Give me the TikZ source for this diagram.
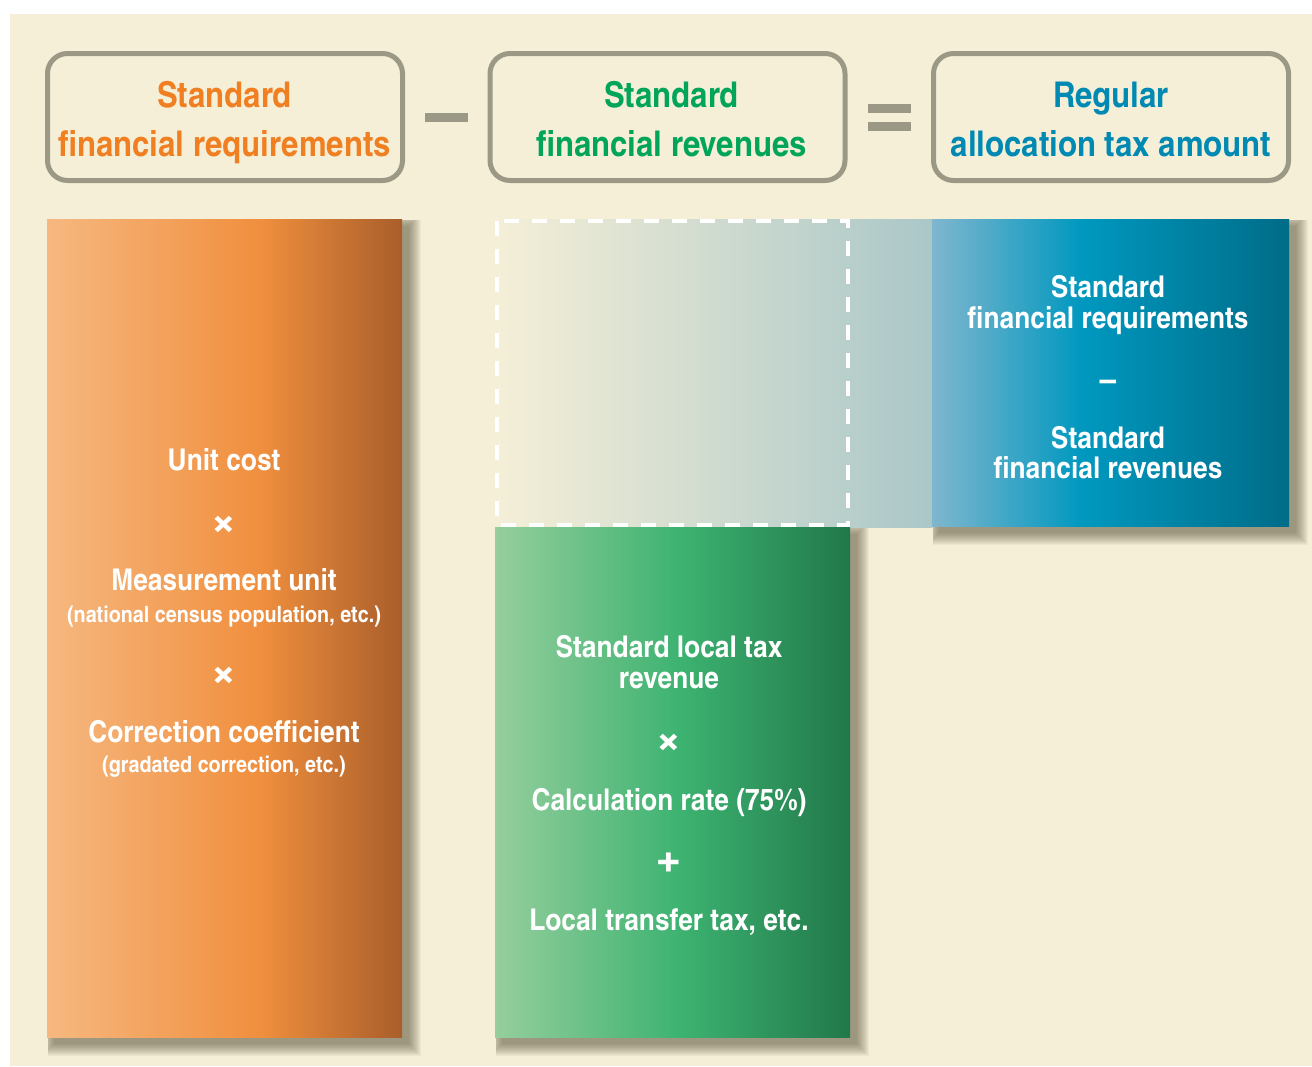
\documentclass[tikz,border=0pt]{standalone}
\usepackage{fontspec}
\newfontfamily\hcn{texgyreheroscn-bold.otf}[FakeStretch=1.07]
\definecolor{bgcream}{HTML}{F5EFD7}
\definecolor{framegray}{HTML}{9B9985}
\definecolor{shadowcol}{HTML}{4A4632}
\definecolor{torange}{HTML}{F07F22}
\definecolor{tgreen}{HTML}{00A55A}
\definecolor{tblue}{HTML}{0089B2}
\definecolor{o1}{HTML}{F6B880}
\definecolor{o2}{HTML}{F08F3E}
\definecolor{o3}{HTML}{A95E2A}
\definecolor{g1}{HTML}{96CE9D}
\definecolor{g2}{HTML}{3DB371}
\definecolor{g3}{HTML}{21784A}
\definecolor{b1}{HTML}{80B6CE}
\definecolor{b2}{HTML}{0098BF}
\definecolor{b3}{HTML}{006C88}
\definecolor{band}{HTML}{AAC7C8}
\pgfdeclarehorizontalshading{orangesh}{100bp}{color(0bp)=(o1); color(25bp)=(o1); color(55bp)=(o2); color(75bp)=(o3); color(100bp)=(o3)}
\pgfdeclarehorizontalshading{greensh}{100bp}{color(0bp)=(g1); color(25bp)=(g1); color(51bp)=(g2); color(75bp)=(g3); color(100bp)=(g3)}
\pgfdeclarehorizontalshading{bluesh}{100bp}{color(0bp)=(b1); color(25bp)=(b1); color(46bp)=(b2); color(75bp)=(b3); color(100bp)=(b3)}
\pgfdeclarehorizontalshading{bandsh}{100bp}{color(0bp)=(bgcream); color(25bp)=(bgcream); color(75bp)=(band); color(100bp)=(band)}
\newcommand{\softshadow}[4]{%
  \begin{scope}
  \clip ({#1+1},{#2+1}) rectangle ({#3+60},{#4+60});
  \foreach \r in {0,...,12}{%
    \fill[shadowcol, opacity=0.05] ({#1+7-\r},{#2+7-\r}) rectangle ({#3+7+\r},{#4+7+\r});}
  \end{scope}}
\tikzset{
  hbox/.style={draw=framegray, line width=5pt, rounded corners=20pt, fill=bgcream,
    minimum width=355pt, minimum height=127pt, inner sep=0pt},
  htxt/.style={font=\hcn\fontsize{35.5}{40}\selectfont, anchor=base, inner sep=0pt},
  btxt/.style={text=white, font=\hcn\fontsize{30}{31}\selectfont, anchor=base, inner sep=0pt},
  stxt/.style={text=white, font=\hcn\fontsize{22.5}{24}\selectfont, anchor=base, inner sep=0pt},
  optxt/.style={text=white, font=\hcn\fontsize{52}{60}\selectfont, anchor=center, inner sep=0pt},
  dashtxt/.style={text=white, font=\hcn\fontsize{34}{36}\selectfont, anchor=center, inner sep=0pt},
  opbar/.style={fill=framegray, inner sep=0pt, minimum width=43pt, minimum height=9pt}
}
\begin{document}
\begin{tikzpicture}[x=1pt,y=-1pt]
\useasboundingbox (0,0) rectangle (1312,1066);
\fill[bgcream] (10,14) rectangle (1312,1066);

% header boxes
\node[hbox] (hb1) at (225,117) {};
\node[hbox] (hb2) at (667.5,117) {};
\node[hbox] (hb3) at (1111,117) {};
\node[htxt, text=torange] (h1a) at (224.5,107.5) {Standard};
\node[htxt, text=torange] (h1b) at (224.5,156) {financial requirements};
\node[htxt, text=tgreen] (h2a) at (671.5,107.5) {Standard};
\node[htxt, text=tgreen] (h2b) at (671.5,156) {financial revenues};
\node[htxt, text=tblue] (h3a) at (1111,107.5) {Regular};
\node[htxt, text=tblue] (h3b) at (1111,156) {allocation tax amount};

% operators
\node[opbar] (minus) at (446.5,117.5) {};
\node[opbar] (eqa) at (889.5,108.5) {};
\node[opbar] (eqb) at (889.5,126.5) {};

% gradient band behind dashed box
\path[shading=bandsh] (495,219) rectangle (932,527);

% shadows
\softshadow{47}{219}{402}{1037}
\softshadow{495}{527}{850}{1037}
\softshadow{932}{219}{1289}{526}

% orange box
\path[shading=orangesh] (47,219) rectangle (402,1037);
% green box
\path[shading=greensh] (495,527) rectangle (850,1037);
% dashed box
\draw[white, line width=4pt, dash pattern=on 15pt off 13pt] (497,221) rectangle (848,525);
% blue box
\path[shading=bluesh] (932,219) rectangle (1289,526);

% orange texts
\node[btxt] (o1t) at (224,470) {Unit cost};
\node[optxt] (o2t) at (224,527) {×};
\node[btxt] (o3t) at (224,590) {Measurement unit};
\node[stxt] (o4t) at (224,622) {(national census population, etc.)};
\node[optxt] (o5t) at (224,678) {×};
\node[btxt] (o6t) at (224,742) {Correction coefficient};
\node[stxt] (o7t) at (224,772) {(gradated correction, etc.)};

% green texts
\node[btxt] (g1t) at (669,657) {Standard local tax};
\node[btxt] (g2t) at (669,688) {revenue};
\node[optxt] (g3t) at (669,745) {×};
\node[btxt] (g4t) at (669,810) {Calculation rate (75\%)};
\node[optxt] (g5t) at (669,864) {+};
\node[btxt] (g6t) at (669,930) {Local transfer tax, etc.};

% blue texts
\node[btxt] (b1t) at (1108,297) {Standard};
\node[btxt] (b2t) at (1108,328) {financial requirements};
\node[dashtxt] (b3t) at (1108,386) {–};
\node[btxt] (b4t) at (1108,448) {Standard};
\node[btxt] (b5t) at (1108,478) {financial revenues};
\end{tikzpicture}
\end{document}
